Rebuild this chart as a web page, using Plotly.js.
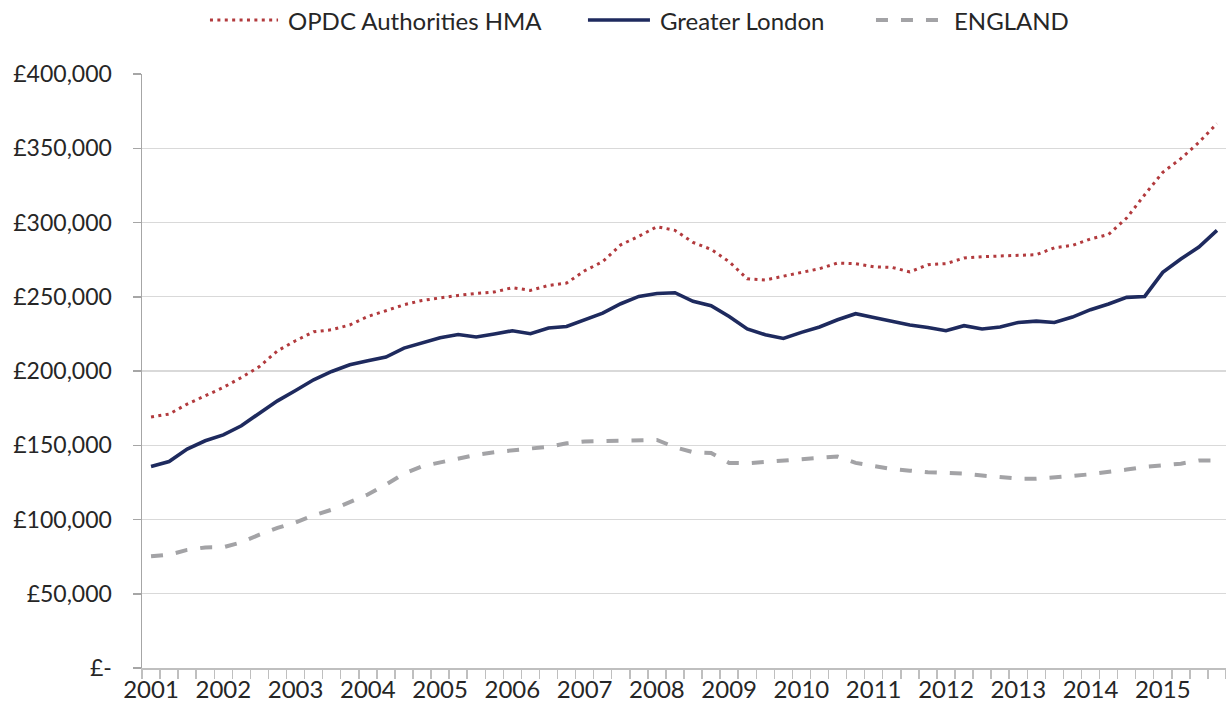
<!DOCTYPE html>
<html>
<head>
<meta charset="utf-8">
<script src="https://cdn.plot.ly/plotly-3.0.1.min.js"></script>
<style>
  html, body { margin: 0; padding: 0; background: #ffffff; }
  #chart { width: 1226px; height: 717px; }
</style>
</head>
<body>
<div id="chart"></div>
<script>
// ---- data (quarterly, 2001 Q1 – 2015 Q4) ----
const years = [2001, 2002, 2003, 2004, 2005, 2006, 2007, 2008, 2009, 2010, 2011, 2012, 2013, 2014, 2015];
const quarterNames = ['Q1', 'Q2', 'Q3', 'Q4'];

const seriesNames = ['OPDC Authorities HMA', 'Greater London', 'ENGLAND'];

const opdc = [
  169000, 171000, 177700, 183500, 188900, 195600, 203000, 213600,
  220400, 226400, 227800, 231000, 236700, 240600, 244600, 247500,
  249300, 250900, 252200, 253200, 256100, 254300, 257600, 259200,
  267500, 273600, 285000, 290700, 297200, 294700, 286600, 281900,
  273600, 262100, 261300, 264000, 266400, 268900, 272700, 272300,
  270200, 269800, 266700, 271600, 272300, 276100, 277000, 277200,
  277900, 278300, 283000, 284600, 288900, 292000, 303000, 318700,
  333800, 343000, 354000, 366600
];

const greaterLondon = [
  135700, 139000, 147400, 153000, 157000, 163100, 171600, 179900,
  186900, 194100, 199700, 204200, 206900, 209400, 215400, 218800,
  222400, 224600, 222900, 224900, 227100, 225100, 228900, 230000,
  234500, 239000, 245300, 250200, 252200, 252700, 246900, 244000,
  236700, 228300, 224400, 221900, 226000, 229600, 234500, 238600,
  236100, 233400, 231000, 229300, 227100, 230500, 228300, 229600,
  232700, 233600, 232700, 236300, 241300, 245100, 249600, 250200,
  266400, 275400, 283500, 294700
];

const england = [
  75200, 76300, 79500, 81200, 81300, 84600, 89800, 94300,
  98000, 102800, 106600, 112000, 116800, 123500, 130900, 135800,
  138600, 141400, 143600, 145300, 146800, 147800, 148900, 151300,
  152500, 152700, 152900, 153200, 153600, 148700, 145300, 144800,
  138100, 137900, 138800, 139700, 140800, 141400, 142400, 138100,
  135800, 134000, 132900, 131800, 131400, 130900, 129600, 128400,
  127500, 127500, 128200, 129300, 130500, 131800, 133600, 135400,
  136500, 137600, 139700, 139700
];

const yTickValues = [0, 50000, 100000, 150000, 200000, 250000, 300000, 350000, 400000];
const yTickLabels = ['£-', '£50,000', '£100,000', '£150,000', '£200,000', '£250,000', '£300,000', '£350,000', '£400,000'];

// ---- derived ----
const quarters = [];
years.forEach(y => quarterNames.forEach(q => quarters.push(y + ' ' + q)));
const xIdx = quarters.map((q, i) => i);
const yearTickVals = years.map((y, k) => k * 4);
const yearTickText = years.map(String);
const quarterBounds = quarters.map((q, i) => i - 0.5).concat([quarters.length - 0.5]);

const FONT = 'Lato, "Open Sans", sans-serif';
const TEXT_COLOR = '#262626';
const colors = ['#b23a3d', '#1e2a5e', '#a3a3a6'];
const dashes = ['3px,4.4px', 'solid', '12px,13px'];
const widths = [3, 3.6, 4];

const seriesData = [opdc, greaterLondon, england];
const traces = seriesData.map((vals, k) => ({
  type: 'scatter',
  mode: 'lines',
  name: seriesNames[k],
  x: xIdx,
  y: vals,
  text: quarters,
  line: { color: colors[k], width: widths[k], dash: dashes[k] },
  showlegend: false,
  hoverinfo: 'text+y+name'
}));

// custom legend (line samples + labels) in paper coordinates
const legendX = [[0.0627, 0.1255], [0.4114, 0.4686], [0.6771, 0.7399]];
const legendY = 1.0909;
const shapes = legendX.map((p, k) => ({
  type: 'line', xref: 'paper', yref: 'paper',
  x0: p[0], x1: p[1], y0: legendY, y1: legendY,
  line: { color: colors[k], width: widths[k], dash: dashes[k] }
}));
const annotations = legendX.map((p, k) => ({
  xref: 'paper', yref: 'paper', x: p[1] + 0.0075, y: legendY,
  xanchor: 'left', yanchor: 'middle', showarrow: false,
  text: seriesNames[k],
  font: { family: FONT, size: 24, color: TEXT_COLOR }
}));

const layout = {
  width: 1226,
  height: 717,
  margin: { l: 142, r: 0, t: 74, b: 49 },
  paper_bgcolor: '#ffffff',
  plot_bgcolor: '#ffffff',
  font: { family: FONT, size: 24, color: TEXT_COLOR },
  xaxis: {
    range: [-0.5, quarters.length - 0.5],
    tickmode: 'array',
    tickvals: yearTickVals,
    ticktext: yearTickText,
    ticks: '',
    showgrid: false,
    zeroline: false,
    showline: true,
    linecolor: '#bfbfbf',
    linewidth: 1.5,
    tickfont: { family: FONT, size: 24, color: TEXT_COLOR },
    minor: {
      tickmode: 'array',
      tickvals: quarterBounds,
      ticks: 'outside',
      ticklen: 9,
      tickwidth: 1.5,
      tickcolor: '#bfbfbf',
      showgrid: false
    }
  },
  yaxis: {
    range: [0, 400000],
    tickmode: 'array',
    tickvals: yTickValues,
    ticktext: yTickLabels,
    ticks: 'outside',
    ticklen: 8,
    tickwidth: 1.5,
    tickcolor: '#a6a6a6',
    showline: true,
    linecolor: '#a6a6a6',
    linewidth: 1.5,
    showgrid: true,
    gridcolor: '#d9d9d9',
    gridwidth: 1.4,
    zeroline: false,
    ticklabelstandoff: 16,
    tickfont: { family: FONT, size: 23, color: TEXT_COLOR }
  },
  shapes: shapes,
  annotations: annotations,
  showlegend: false
};

Plotly.newPlot('chart', traces, layout, { displayModeBar: false, staticPlot: true });
</script>
</body>
</html>
